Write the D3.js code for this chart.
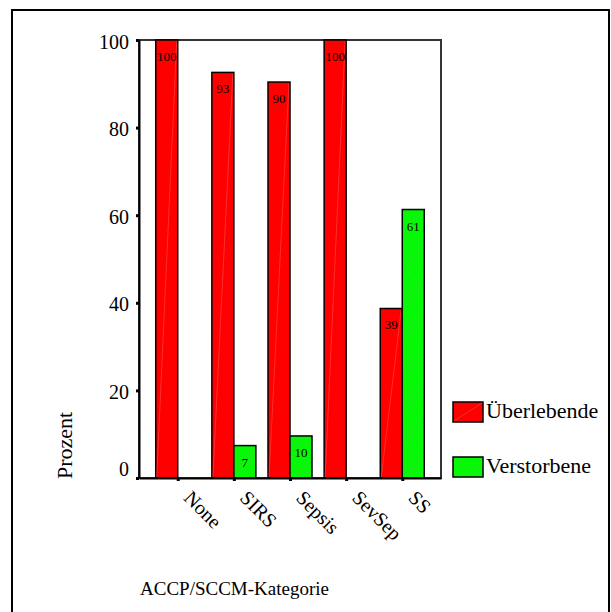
<!doctype html>
<html>
<head>
<meta charset="utf-8">
<script src="https://d3js.org/d3.v7.min.js"></script>
<style>
  body { margin: 0; background: #fff; }
  text { font-family: "Liberation Serif", "Times New Roman", serif; fill: #000; }
</style>
</head>
<body>
<svg width="611" height="612"></svg>
<script>
var categories = ["None", "SIRS", "Sepsis", "SevSep", "SS"];
var survived = [100, 92.6, 90.4, 100, 38.7];
var died = [0, 7.4, 9.6, 0, 61.3];
var seriesNames = ["Überlebende", "Verstorbene"];
var yTicks = [0, 20, 40, 60, 80, 100];

var svg = d3.select("svg");

// pattern for green hatch
var defs = svg.append("defs");
var pat = defs.append("pattern")
    .attr("id", "hatch")
    .attr("patternUnits", "userSpaceOnUse")
    .attr("width", 3).attr("height", 3)
    .attr("patternTransform", "rotate(45)");
pat.append("rect").attr("width", 3).attr("height", 3).attr("fill", "#00ff00");
pat.append("line").attr("x1", 0).attr("y1", 0).attr("x2", 0).attr("y2", 3)
    .attr("stroke", "#33cc33").attr("stroke-width", 1);

// outer frame
svg.append("rect")
    .attr("x", 12).attr("y", 10)
    .attr("width", 597).attr("height", 606)
    .attr("fill", "none").attr("stroke", "#000").attr("stroke-width", 2);

var plot = {left: 139, right: 441, top: 40, bottom: 478};

var x = d3.scalePoint().domain(categories).range([plot.left, plot.right]).padding(0.69);
var y = d3.scaleLinear().domain([0, 100]).range([plot.bottom, plot.top]);
var bw = 22;

var g = svg.append("g");

// plot frame (top/right)
g.append("rect")
    .attr("x", plot.left).attr("y", plot.top)
    .attr("width", plot.right - plot.left).attr("height", plot.bottom - plot.top)
    .attr("fill", "none").attr("stroke", "#333").attr("stroke-width", 2);

var rows = categories.map(function(c, i) { return {cat: c, s: survived[i], d: died[i]}; });

// red bars
var red = g.selectAll(".red").data(rows).enter().append("g");
red.append("rect")
    .attr("x", function(d) { return x(d.cat) - bw; })
    .attr("y", function(d) { return y(d.s); })
    .attr("width", bw)
    .attr("height", function(d) { return y(0) - y(d.s); })
    .attr("fill", "#ff0000").attr("stroke", "#000").attr("stroke-width", 1.5);
red.append("line")
    .attr("x1", function(d) { return x(d.cat) - bw + 1; })
    .attr("y1", y(0) - 1)
    .attr("x2", function(d) { return x(d.cat) - 1; })
    .attr("y2", function(d) { return y(d.s) + 1; })
    .attr("stroke", "#ff9090").attr("stroke-width", 0.7).attr("opacity", 0.45);
red.filter(function(d) { return d.s > 0; }).append("text")
    .attr("x", function(d) { return x(d.cat) - bw / 2; })
    .attr("y", function(d) { return y(d.s) + 21; })
    .attr("text-anchor", "middle")
    .style("font-size", "13px")
    .text(function(d) { return Math.round(d.s); });

// green bars
var green = g.selectAll(".green").data(rows).enter().append("g");
green.append("rect")
    .attr("x", function(d) { return x(d.cat); })
    .attr("y", function(d) { return y(d.d); })
    .attr("width", bw)
    .attr("height", function(d) { return y(0) - y(d.d); })
    .attr("fill", "url(#hatch)").attr("stroke", "#000").attr("stroke-width", 1.5);
green.filter(function(d) { return d.d > 0; }).append("text")
    .attr("x", function(d) { return x(d.cat) + bw / 2; })
    .attr("y", function(d) { return y(d.d) + 21; })
    .attr("text-anchor", "middle")
    .style("font-size", "13px")
    .text(function(d) { return Math.round(d.d); });

// y axis
var yAxis = g.append("g")
    .attr("transform", "translate(" + plot.left + ",0)")
    .call(d3.axisLeft(y).tickValues(yTicks).tickSize(0).tickPadding(10));
yAxis.attr("font-family", null);
yAxis.select(".domain").attr("stroke", "#000").attr("stroke-width", 2);
yAxis.selectAll(".tick text")
    .style("font-size", "20px")
    .attr("dy", function(d) { return d === 0 ? "-0.15em" : "0.4em"; });
yAxis.selectAll(".tick").append("rect")
    .attr("x", -3).attr("y", -1.5).attr("width", 3).attr("height", 3)
    .attr("fill", "#000");

// x axis
var xAxis = g.append("g")
    .attr("transform", "translate(0," + plot.bottom + ")")
    .call(d3.axisBottom(x).tickSize(0).tickFormat(""));
xAxis.select(".domain").attr("stroke", "#000").attr("stroke-width", 2);
xAxis.selectAll(".tick").append("rect")
    .attr("x", -1.5).attr("y", 0).attr("width", 3).attr("height", 3)
    .attr("fill", "#000");
g.selectAll(".xlab").data(categories).enter().append("text")
    .attr("transform", function(d) { return "translate(" + (x(d) + 15) + "," + (plot.bottom + 11) + ") rotate(45)"; })
    .attr("dy", "0.71em")
    .attr("text-anchor", "start")
    .style("font-size", "20px")
    .text(function(d) { return d; });

// axis titles
svg.append("text")
    .attr("transform", "translate(72,479) rotate(-90)")
    .attr("text-anchor", "start")
    .style("font-size", "22px")
    .text("Prozent");
svg.append("text")
    .attr("x", 140).attr("y", 595)
    .style("font-size", "19px")
    .text("ACCP/SCCM-Kategorie");

// legend
var legend = svg.append("g");
var fills = ["#ff0000", "url(#hatch)"];
seriesNames.forEach(function(name, i) {
  var ly = 402 + i * 55;
  legend.append("rect")
      .attr("x", 453).attr("y", ly).attr("width", 30).attr("height", 20)
      .attr("fill", fills[i]).attr("stroke", "#000").attr("stroke-width", 1.5);
  if (i === 0) {
    legend.append("line")
        .attr("x1", 454).attr("y1", ly + 19).attr("x2", 482).attr("y2", ly + 1)
        .attr("stroke", "#ff9090").attr("stroke-width", 0.7).attr("opacity", 0.45);
  }
  legend.append("text")
      .attr("x", 486).attr("y", ly + 16)
      .style("font-size", "22px")
      .text(name);
});
</script>
</body>
</html>
